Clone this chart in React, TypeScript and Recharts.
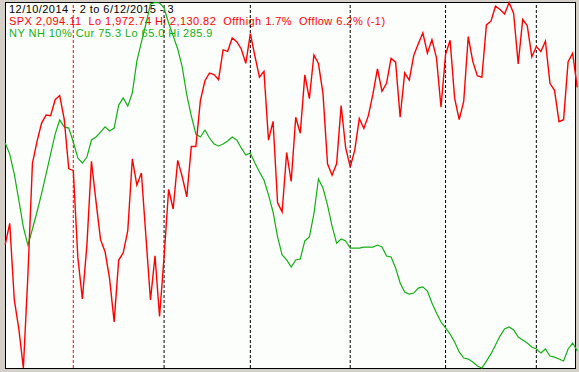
import { LineChart, Line, XAxis, YAxis, ReferenceLine } from 'recharts'

// S&P 500 daily closes, 12/10/2014 .. 6/12/2015
const spx = [
  2026.14, 2035.33, 2002.33, 1989.63, 1972.74, 2012.89, 2061.23, 2070.65, 2078.54, 2082.17, 2081.88, 2088.77, 2090.57, 2080.35, 2058.9,
  2058.2, 2020.58, 2002.61, 2025.9, 2062.14, 2044.81, 2028.26, 2023.03, 2011.27, 1992.67, 2019.42, 2022.55, 2032.12, 2063.15, 2051.82, 2057.09, 2029.55, 2002.16, 2021.25, 1994.99,
  2020.85, 2050.03, 2041.51, 2062.52, 2055.47, 2046.74, 2068.59, 2068.53, 2088.48, 2096.99, 2100.34, 2099.68, 2097.45, 2110.3, 2109.66, 2115.48, 2113.86, 2110.74, 2104.5,
  2117.39, 2107.78, 2098.53, 2101.04, 2071.26, 2079.43, 2044.16, 2040.24, 2065.95, 2053.4, 2081.19, 2074.28, 2099.5, 2089.27, 2108.1, 2104.42, 2091.5, 2061.05, 2056.15, 2061.02, 2086.24, 2067.89,
  2059.69, 2066.96, 2080.62, 2076.33, 2081.9, 2091.18, 2102.06, 2092.43, 2095.84, 2106.63, 2104.99, 2081.18, 2100.4, 2097.29, 2107.96, 2112.93, 2117.69, 2108.92, 2114.76, 2106.85, 2085.51,
  2108.29, 2114.49, 2089.46, 2080.15, 2088.0, 2116.1, 2105.33, 2099.12, 2098.48, 2121.1, 2122.73, 2129.2, 2127.83, 2125.85, 2130.82, 2126.06, 2104.2, 2123.48, 2120.79, 2107.39,
  2111.73, 2109.6, 2114.07, 2095.84, 2092.83, 2079.28, 2080.15, 2105.2, 2108.86, 2094.11,
]

// NYSE new highs, 10 day average
const nyNh = [
  201.0, 194.3, 182.2, 166.5, 150.2, 139.3, 149.0, 159.3, 170.2, 182.2, 194.3, 206.4, 214.9, 210.7, 210.0,
  201.6, 191.9, 188.9, 192.5, 202.8, 204.6, 207.6, 210.7, 208.2, 210.0, 223.9, 228.2, 223.3, 231.2, 250.5, 262.0, 272.9, 285.0, 285.9, 285.6,
  282.6, 273.5, 265.7, 257.8, 246.9, 230.0, 217.3, 206.4, 204.6, 208.8, 204.0, 200.4, 199.2, 200.4, 202.2, 204.6, 202.8, 198.0, 193.7,
  194.9, 188.9, 183.5, 178.6, 169.6, 159.3, 144.2, 133.3, 130.3, 126.0, 130.3, 130.9, 141.8, 144.2, 158.1, 179.2, 173.8, 163.5, 150.8, 140.5, 143.0, 141.8,
  137.5, 137.5, 137.5, 138.1, 138.1, 138.1, 139.3, 138.1, 132.7, 132.1, 125.4, 116.4, 110.9, 109.7, 110.3, 113.3, 114.0, 111.5, 104.3, 98.2, 92.8,
  89.2, 85.5, 80.7, 74.7, 71.0, 70.4, 68.6, 66.2, 65.0, 69.2, 73.5, 78.9, 84.3, 88.6, 89.8, 88.0, 83.7, 81.9, 80.1, 77.7,
  76.5, 74.1, 76.5, 72.2, 71.6, 70.4, 69.2, 76.5, 80.1, 75.3,
]

// first trading day of each month (index into the series); first one is the year change
const monthStarts = [15, 35, 54, 76, 97, 117]

const titleText = '12/10/2014 - 2 to 6/12/2015 - 3'
const spxText = 'SPX 2,094.11  Lo 1,972.74 Hi 2,130.82  Offhigh 1.7%  Offlow 6.2% (-1)'
const nhText = 'NY NH 10% Cur 75.3 Lo 65.0 Hi 285.9'

const RED = '#ff0000'
const GREEN = '#12b012'

const data = spx.map((v, i) => ({ i, spx: v, nh: nyNh[i] }))

export default function App() {
  return (
    <div style={{ position: 'relative', width: 579, height: 372, background: '#d4d0c8', overflow: 'hidden' }}>
      <style>{'body{margin:0}'}</style>
      <div
        style={{
          position: 'absolute',
          left: 5,
          top: 2,
          width: 571,
          height: 367,
          boxSizing: 'border-box',
          border: '1px solid #000',
          background: '#fcfefc',
        }}
      />
      <div
        style={{
          position: 'absolute',
          left: 9,
          top: 3,
          fontFamily: '"Liberation Sans", Arial, sans-serif',
          fontSize: 11,
          letterSpacing: '0.45px',
          lineHeight: '12px',
          whiteSpace: 'pre',
        }}
      >
        <div style={{ color: '#000' }}>{titleText}</div>
        <div style={{ color: RED }}>{spxText}</div>
        <div style={{ color: GREEN }}>{nhText}</div>
      </div>
      <div style={{ position: 'absolute', left: 0, top: 0 }}>
        <LineChart width={579} height={372} data={data} margin={{ top: 2.5, right: 1.8, bottom: 4, left: 5.2 }}>
          <XAxis dataKey="i" type="number" domain={[0, 126]} hide />
          <YAxis yAxisId="spx" domain={[1972.74, 2130.82]} hide />
          <YAxis yAxisId="nh" domain={[65.0, 285.9]} hide />
          {monthStarts.map((m, k) => (
            <ReferenceLine
              key={m}
              x={m}
              yAxisId="spx"
              stroke={k === 0 ? RED : '#000'}
              strokeDasharray="3 2"
              strokeWidth={1}
            />
          ))}
          <Line yAxisId="nh" dataKey="nh" stroke={GREEN} strokeWidth={1.2} dot={false} isAnimationActive={false} type="linear" />
          <Line yAxisId="spx" dataKey="spx" stroke={RED} strokeWidth={1.4} dot={false} isAnimationActive={false} type="linear" />
        </LineChart>
      </div>
    </div>
  )
}
